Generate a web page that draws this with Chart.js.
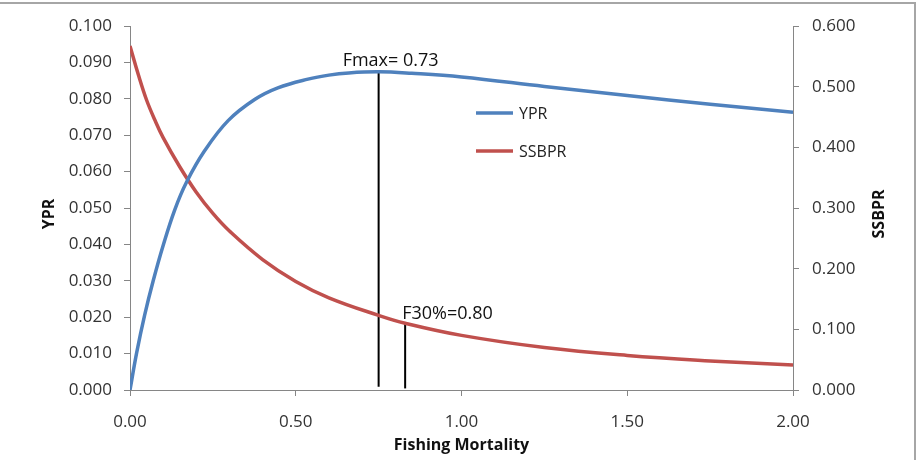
<!DOCTYPE html>
<html>
<head>
<meta charset="utf-8">
<script src="https://cdn.jsdelivr.net/npm/chart.js@4/dist/chart.umd.min.js"></script>
<style>
  body { margin: 0; background: #fff; }
  canvas { display: block; }
</style>
</head>
<body>
<canvas id="graph1" width="918" height="460"></canvas>
<script>
// yield per recruit curve (left axis)
const fYpr = [0, 0.02, 0.044, 0.07, 0.10, 0.135, 0.17, 0.225, 0.296, 0.376, 0.446, 0.537, 0.60, 0.66, 0.75, 0.85, 1.00, 1.25, 1.50, 1.75, 2.00];
const ypr = [0, 0.0102, 0.0205, 0.0300, 0.0397, 0.0495, 0.0570, 0.0657, 0.0740, 0.0798, 0.0830, 0.0854, 0.0865, 0.0871, 0.0874, 0.0870, 0.0860, 0.0834, 0.0809, 0.0785, 0.0763];

// spawning biomass per recruit (right axis)
const fSsb = [0, 0.025, 0.05, 0.075, 0.10, 0.15, 0.20, 0.25, 0.30, 0.40, 0.50, 0.60, 0.75, 0.83, 1.00, 1.25, 1.50, 1.75, 2.00];
const ssbpr = [0.567, 0.520, 0.478, 0.445, 0.416, 0.368, 0.326, 0.291, 0.262, 0.215, 0.179, 0.152, 0.123, 0.110, 0.090, 0.070, 0.057, 0.048, 0.041];

// reference point markers
const fmaxLine = [0.75, 0.75];
const fmaxY = [0.0009, 0.0874];
const f30Line = [0.83, 0.83];
const f30Y = [0.0026, 0.110];

const xTicks = [0, 0.5, 1.0, 1.5, 2.0];
const legendNames = ["YPR", "SSBPR"];
const blue = "#4f81bd";
const red = "#c0504d";
const axisGrey = "#868686";
const fontName = "'Open Sans', sans-serif";

function pts(xs, ys) {
  return xs.map((x, i) => ({ x: x, y: ys[i] }));
}

const extras = {
  id: "extras",
  afterDraw(chart) {
    const c = chart.ctx;
    const xs = chart.scales.x;
    const ya = chart.scales.y;
    const area = chart.chartArea;
    c.save();

    // outer frame (top and right only)
    c.strokeStyle = "#a6a6a6";
    c.lineWidth = 2;
    c.beginPath();
    c.moveTo(0, 3);
    c.lineTo(915, 3);
    c.lineTo(915, 460);
    c.stroke();

    // labels for reference points
    c.fillStyle = "#111";
    c.font = "18px " + fontName;
    c.textAlign = "left";
    c.textBaseline = "alphabetic";
    c.fillText("Fmax= 0.73", xs.getPixelForValue(fmaxLine[0]) - 36, ya.getPixelForValue(fmaxY[1]) - 6);
    c.fillText("F30%=0.80", xs.getPixelForValue(f30Line[0]) - 3, chart.scales.y1.getPixelForValue(f30Y[1]) - 4);

    // legend
    const cols = [blue, red];
    legendNames.forEach((name, i) => {
      const yy = 113 + i * 38;
      c.strokeStyle = cols[i];
      c.lineWidth = 3.5;
      c.beginPath();
      c.moveTo(476, yy);
      c.lineTo(513, yy);
      c.stroke();
      c.fillStyle = "#222";
      c.font = "16px " + fontName;
      c.textBaseline = "middle";
      c.fillText(name, 519, yy + 1);
    });

    // axis titles
    c.fillStyle = "#111";
    c.font = "bold 16px " + fontName;
    c.textAlign = "center";
    c.textBaseline = "middle";
    c.fillText("Fishing Mortality", (area.left + area.right) / 2, 445);
    c.save();
    c.translate(49, 214);
    c.rotate(-Math.PI / 2);
    c.fillText("YPR", 0, 0);
    c.restore();
    c.save();
    c.translate(879, 214);
    c.rotate(-Math.PI / 2);
    c.fillText("SSBPR", 0, 0);
    c.restore();

    c.restore();
  }
};

const tickFont = { family: fontName, size: 17 };

new Chart(document.getElementById("graph1"), {
  type: "line",
  data: {
    datasets: [
      {
        label: "YPR",
        data: pts(fYpr, ypr),
        borderColor: blue,
        borderWidth: 3.5,
        pointRadius: 0,
        tension: 0.4,
        yAxisID: "y"
      },
      {
        label: "SSBPR",
        data: pts(fSsb, ssbpr),
        borderColor: red,
        borderWidth: 3.5,
        pointRadius: 0,
        tension: 0.4,
        yAxisID: "y1"
      },
      {
        label: "Fmax",
        data: pts(fmaxLine, fmaxY),
        borderColor: "#000",
        borderWidth: 2,
        pointRadius: 0,
        yAxisID: "y"
      },
      {
        label: "F30",
        data: pts(f30Line, f30Y),
        borderColor: "#000",
        borderWidth: 2,
        pointRadius: 0,
        yAxisID: "y1"
      }
    ]
  },
  options: {
    responsive: false,
    animation: false,
    devicePixelRatio: 1,
    layout: { padding: { top: 26, left: 0, right: 0, bottom: 0 } },
    plugins: {
      legend: { display: false },
      tooltip: { enabled: false }
    },
    scales: {
      x: {
        type: "linear",
        min: 0,
        max: 2,
        afterBuildTicks: (axis) => { axis.ticks = xTicks.map(v => ({ value: v })); },
        afterFit: (axis) => { axis.height = 70; },
        ticks: {
          font: tickFont,
          color: "#333",
          padding: 16,
          maxRotation: 0,
          callback: (v) => Number(v).toFixed(2)
        },
        grid: { drawOnChartArea: false, drawTicks: true, tickLength: 6, color: axisGrey },
        border: { color: axisGrey }
      },
      y: {
        position: "left",
        min: 0,
        max: 0.1,
        afterFit: (axis) => { axis.width = 130; },
        ticks: {
          stepSize: 0.01,
          font: tickFont,
          color: "#333",
          padding: 12,
          callback: (v) => Number(v).toFixed(3)
        },
        grid: { drawOnChartArea: false, drawTicks: true, tickLength: 6, color: axisGrey },
        border: { color: axisGrey }
      },
      y1: {
        position: "right",
        min: 0,
        max: 0.6,
        afterFit: (axis) => { axis.width = 125; },
        ticks: {
          stepSize: 0.1,
          font: tickFont,
          color: "#333",
          padding: 13,
          callback: (v) => Number(v).toFixed(3)
        },
        grid: { drawOnChartArea: false, drawTicks: true, tickLength: 6, color: axisGrey },
        border: { color: axisGrey }
      }
    }
  },
  plugins: [extras]
});
</script>
</body>
</html>
